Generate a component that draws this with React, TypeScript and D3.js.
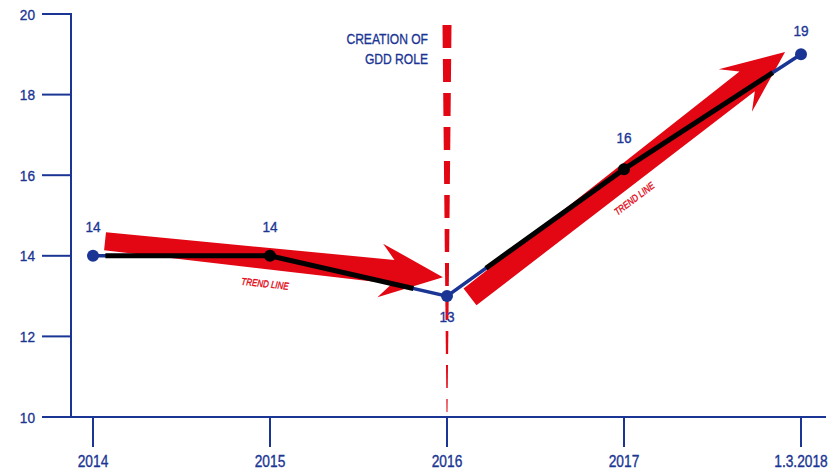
import React from "react";
import * as d3 from "d3";

const categories = ["2014", "2015", "2016", "2017", "1.3.2018"];
const values = [14, 14, 13, 16.15, 19];
const valueLabels = ["14", "14", "13", "16", "19"];
const yTicks = [10, 12, 14, 16, 18, 20];
// black highlight overlay along the line, in category-index units
const overlayRanges = [
  [0.07, 1.81],
  [2.22, 3.84],
];
// trend arrows: [indexFrom, valueFrom, indexTo, valueTo]
const trendArrows = [
  [0.068, 14.36, 1.977, 13.47],
  [2.13, 12.98, 3.91, 19.06],
];
const trendLabels = [
  { idx: 0.97, value: 13.22, angle: 6 },
  { idx: 3.07, value: 15.35, angle: -37 },
];
const markerIndex = 2;

const W = 829;
const H = 472;
const NAVY = "#1a3594";
const RED = "#e30613";
const FONT = "'Liberation Sans', Arial, sans-serif";

function T({
  x,
  y,
  children,
  size,
  anchor = "middle",
  sx = 0.82,
  fill = NAVY,
  rotate = 0,
  italic = false,
}: {
  x: number;
  y: number;
  children: React.ReactNode;
  size: number;
  anchor?: "start" | "middle" | "end";
  sx?: number;
  fill?: string;
  rotate?: number;
  italic?: boolean;
}) {
  return (
    <text
      transform={`translate(${x},${y}) rotate(${rotate}) scale(${sx},1)`}
      textAnchor={anchor}
      fontSize={size}
      fill={fill}
      stroke={fill}
      strokeWidth={0.35}
      fontStyle={italic ? "italic" : "normal"}
      fontFamily={FONT}
    >
      {children}
    </text>
  );
}

export default function App() {
  const x = d3.scalePoint<string>().domain(categories).range([93, 801]);
  const xi = d3.scaleLinear().domain([0, categories.length - 1]).range([93, 801]);
  const y = d3.scaleLinear().domain([10, 20]).range([417, 14]);
  const axisLeft = 71;

  const line = d3
    .line<number>()
    .x((_, i) => xi(i))
    .y((v) => y(v));

  const valueAt = (t: number) => {
    const i = Math.min(Math.floor(t), values.length - 2);
    const f = t - i;
    return values[i] + (values[i + 1] - values[i]) * f;
  };

  const overlayPaths = overlayRanges.map(([a, b]) => {
    const pts: [number, number][] = [[xi(a), y(valueAt(a))]];
    for (let k = Math.ceil(a); k <= Math.floor(b); k++) {
      if (k > a && k < b) pts.push([xi(k), y(values[k])]);
    }
    pts.push([xi(b), y(valueAt(b))]);
    return d3.line()(pts) as string;
  });

  const arrowPath = (a: number[], tailW: number, shaftW: number, headHalf: number, headLen: number, joinLen: number) => {
    const x0 = xi(a[0]);
    const y0 = y(a[1]);
    const x1 = xi(a[2]);
    const y1 = y(a[3]);
    const dx = x1 - x0;
    const dy = y1 - y0;
    const L = Math.hypot(dx, dy);
    const ux = dx / L;
    const uy = dy / L;
    const nx = -uy;
    const ny = ux;
    const p = (along: number, side: number): [number, number] => [x0 + ux * along + nx * side, y0 + uy * along + ny * side];
    const pts = [
      p(0, tailW / 2),
      p(L - joinLen, shaftW / 2),
      p(L - headLen, headHalf),
      p(L, 0),
      p(L - headLen, -headHalf),
      p(L - joinLen, -shaftW / 2),
      p(0, -tailW / 2),
    ];
    return (d3.line()(pts) as string) + "Z";
  };

  const mx = x(categories[markerIndex])!;
  const dashTop = 25;
  const dashBottom = 412;
  const labelOffsets = [-24, -24, 26, -26, -18];

  return (
    <svg width={W} height={H} style={{ position: "absolute", left: 0, top: 0, background: "#fff" }} fontFamily={FONT}>
      <defs>
        <mask id="dashMask" maskUnits="userSpaceOnUse" x={0} y={0} width={W} height={H}>
          <line x1={mx} x2={mx} y1={dashTop} y2={dashBottom} stroke="#fff" strokeWidth={20} strokeDasharray="23 11" />
        </mask>
      </defs>

      {/* axes */}
      <line x1={axisLeft} x2={axisLeft} y1={y(20) - 1} y2={y(10)} stroke={NAVY} strokeWidth={2} />
      <line x1={42} x2={826} y1={y(10)} y2={y(10)} stroke={NAVY} strokeWidth={2} />
      {yTicks.map((t) => (
        <g key={t}>
          <line x1={42} x2={axisLeft} y1={y(t)} y2={y(t)} stroke={NAVY} strokeWidth={2} />
          <T x={35} y={y(t) + 5.5} anchor="end" size={15.5} sx={0.88}>
            {t}
          </T>
        </g>
      ))}
      {categories.map((c) => (
        <g key={c}>
          <line x1={x(c)} x2={x(c)} y1={y(10)} y2={y(10) + 30} stroke={NAVY} strokeWidth={2} />
          <T x={x(c)!} y={467} size={16} sx={0.86}>
            {c}
          </T>
        </g>
      ))}

      {/* dashed marker */}
      <path
        d={`M${mx - 4.5},${dashTop}L${mx + 4.5},${dashTop}L${mx + 0.5},${dashBottom}L${mx - 0.5},${dashBottom}Z`}
        fill={RED}
        mask="url(#dashMask)"
      />
      <T x={428} y={44} anchor="end" size={15.5} sx={0.78}>
        CREATION OF
      </T>
      <T x={428} y={64} anchor="end" size={15.5} sx={0.78}>
        GDD ROLE
      </T>

      {/* trend arrows */}
      <path d={arrowPath(trendArrows[0], 18, 24, 27, 63, 50)} fill={RED} />
      <path d={arrowPath(trendArrows[1], 21, 25, 27, 63, 48)} fill={RED} />
      {trendLabels.map((l, i) => (
        <T key={i} x={xi(l.idx)} y={y(l.value)} rotate={l.angle} size={10} sx={0.8} fill={RED} italic>
          TREND LINE
        </T>
      ))}

      {/* data line */}
      <path d={line(values) as string} fill="none" stroke={NAVY} strokeWidth={3.5} />
      {overlayPaths.map((d, i) => (
        <path key={i} d={d} fill="none" stroke="#000" strokeWidth={5} strokeLinejoin="round" />
      ))}
      {values.map((v, i) => (
        <circle key={i} cx={xi(i)} cy={y(v)} r={6} fill={i === 1 || i === 3 ? "#000" : NAVY} />
      ))}
      {values.map((v, i) => (
        <T key={i} x={xi(i)} y={y(v) + labelOffsets[i]} size={15.5} sx={0.88}>
          {valueLabels[i]}
        </T>
      ))}
    </svg>
  );
}
